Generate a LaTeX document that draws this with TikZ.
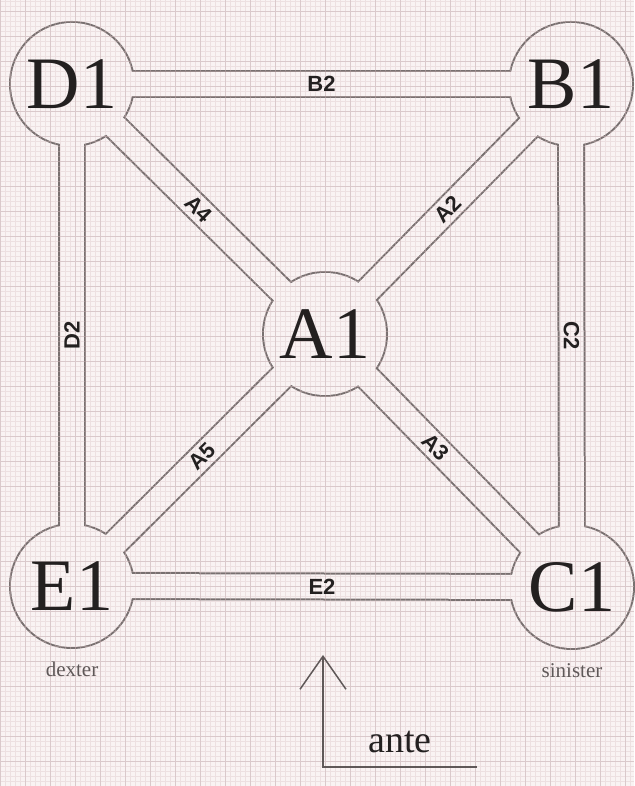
\documentclass[tikz,border=0pt]{standalone}
\usepackage{fontspec}
\setmainfont{Liberation Serif}
\setsansfont{Liberation Sans}
\usepackage{tikz}
\usetikzlibrary{
    arrows.meta,
    positioning,
    backgrounds
}
\definecolor{sketchpaper}{RGB}{249,243,243}
\definecolor{sketchgrid}{RGB}{215,190,192}
\definecolor{sketchmajor}{RGB}{185,160,162}
\definecolor{sketchrim}{RGB}{120,112,112}
\definecolor{sketchink}{RGB}{35,32,32}
\definecolor{sketchsoft}{RGB}{95,88,88}

\begin{document}
\begin{tikzpicture}[
    x=1pt, y=1pt,
    hub/.style={
        circle,
        minimum size=124pt,
        inner sep=0pt,
        text=sketchink,
        font=\fontsize{74}{74}\selectfont
    },
    rimout/.style={
        draw=sketchrim,
        line width=28pt
    },
    rimin/.style={
        draw=sketchpaper,
        line width=24pt
    },
    chanlabel/.style={
        sloped,
        inner sep=0pt,
        text=sketchink,
        font=\sffamily\bfseries\fontsize{22}{22}\selectfont
    },
    sidelabel/.style={
        inner sep=0pt,
        text=sketchsoft,
        font=\fontsize{21}{21}\selectfont
    },
    axisline/.style={
        draw=sketchsoft,
        line width=1.5pt
    }
]

\useasboundingbox (0,0) rectangle (634,786);

% the five chambers
\node[hub] (D1) at (72,702) {D1};
\node[hub] (B1) at (571,702) {B1};
\node[hub] (A1) at (325,452) {A1};
\node[hub] (E1) at (72,200) {E1};
\node[hub] (C1) at (572,199) {C1};

\begin{pgfonlayer}{background}
    \fill[sketchpaper] (0,0) rectangle (634,786);
    % outer rim of chambers and channels
    \foreach \h in {D1,B1,A1,E1,C1}
        \fill[sketchrim] (\h.center) circle (63pt);
    \foreach \a/\b in {D1/B1,E1/C1,E1/D1,C1/B1,A1/B1,A1/C1,D1/A1,E1/A1}
        \draw[rimout] (\a.center) -- (\b.center);
    % hollow inside
    \foreach \h in {D1,B1,A1,E1,C1}
        \fill[sketchpaper] (\h.center) circle (61pt);
    \foreach \a/\b in {D1/B1,E1/C1,E1/D1,C1/B1,A1/B1,A1/C1,D1/A1,E1/A1}
        \draw[rimin] (\a.center) -- (\b.center);
    % graph paper
    \draw[sketchgrid, line width=0.4pt, opacity=0.35, step=5pt] (0,0) grid (634,786);
    \draw[sketchmajor, line width=0.8pt, opacity=0.35, step=25pt] (0,0) grid (634,786);
\end{pgfonlayer}

% channel names
\path (D1) -- node[chanlabel, pos=.5] (B2) {B2} (B1);
\path (E1) -- node[chanlabel, pos=.5] (E2) {E2} (C1);
\path (E1) -- node[chanlabel, pos=.5] (D2) {D2} (D1);
\path (C1) -- node[chanlabel, pos=.5] (C2) {C2} (B1);
\path (A1) -- node[chanlabel, pos=.5] (A2) {A2} (B1);
\path (A1) -- node[chanlabel, pos=.42] (A3) {A3} (C1);
\path (D1) -- node[chanlabel, pos=.5] (A4) {A4} (A1);
\path (E1) -- node[chanlabel, pos=.52] (A5) {A5} (A1);

\node[sidelabel, below=14pt of E1] (dexter) {dexter};
\node[sidelabel, below=14pt of C1] (sinister) {sinister};

% orientation mark
\coordinate (origin) at (323,19);
\coordinate (axisend) at (477,19);
\coordinate (axistip) at (323,131);
\draw[axisline, -{Straight Barb[length=33pt, width=46pt]}] (axisend) -- (origin) -- (axistip);
\node[font=\fontsize{38}{38}\selectfont, text=sketchink] (ante) at (400,44) {ante};

\end{tikzpicture}
\end{document}
